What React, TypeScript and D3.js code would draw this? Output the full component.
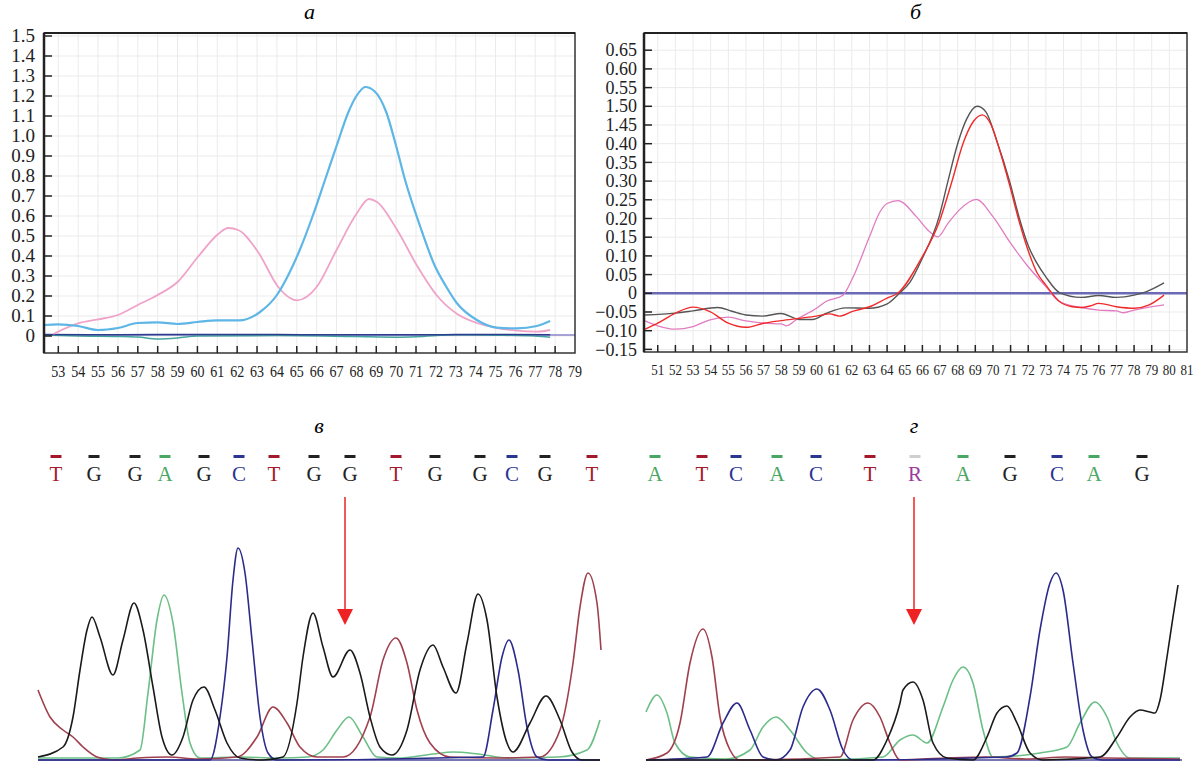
import React from "react";
import * as d3 from "d3";

type Pt = [number, number];

// panel а — melting curves
const A_X_TICKS = [53, 54, 55, 56, 57, 58, 59, 60, 61, 62, 63, 64, 65, 66, 67, 68, 69, 70, 71, 72, 73, 74, 75, 76, 77, 78, 79];
const A_Y_TICKS = [0, 0.1, 0.2, 0.3, 0.4, 0.5, 0.6, 0.7, 0.8, 0.9, 1.0, 1.1, 1.2, 1.3, 1.4, 1.5];
const A_Y_LABELS = ["0", "0.1", "0.2", "0.3", "0.4", "0.5", "0.6", "0.7", "0.8", "0.9", "1.0", "1.1", "1.2", "1.3", "1.4", "1.5"];
const A_BASELINE = 0.005;

const A_BLUE: Pt[] = [
  [52.28, 0.055], [53, 0.058], [54, 0.05], [55, 0.03], [56, 0.04], [57, 0.065], [58, 0.068], [59, 0.06],
  [60, 0.07], [61, 0.078], [62.1, 0.078], [63.15, 0.12], [64, 0.205], [64.6, 0.31], [65.15, 0.43],
  [65.8, 0.6], [66.42, 0.78], [67, 0.95], [67.6, 1.12], [68, 1.2], [68.45, 1.245], [68.9, 1.225],
  [69.5, 1.12], [70, 0.95], [70.45, 0.78], [71.2, 0.55], [71.95, 0.35], [72.5, 0.25], [73.05, 0.165],
  [74.06, 0.08], [75.07, 0.042], [76.07, 0.038], [77.08, 0.05], [77.75, 0.075],
];
const A_PINK: Pt[] = [
  [52.75, 0.01], [54, 0.063], [55, 0.083], [56, 0.105], [57, 0.155], [58, 0.205], [59, 0.27],
  [60.06, 0.4], [61.05, 0.51], [61.55, 0.54], [62.05, 0.53], [63.05, 0.42], [64.07, 0.245],
  [64.66, 0.19], [65, 0.178], [66, 0.245], [67, 0.43], [68, 0.61], [68.63, 0.685], [69.04, 0.67],
  [70.05, 0.53], [71.06, 0.35], [72.07, 0.2], [73.07, 0.11], [74.06, 0.065], [75.07, 0.04],
  [76.07, 0.027], [77.08, 0.022], [77.75, 0.03],
];
const A_TEAL: Pt[] = [
  [52.28, 0.005], [54, 0], [56, -0.002], [57, -0.005], [58, -0.015], [59, -0.01], [60, 0],
  [64, 0.002], [68, -0.003], [70, -0.006], [71, -0.004], [73, 0.006], [75, 0.004], [77, 0], [77.75, -0.006],
];
const A_NAVY: Pt[] = [
  [52.28, 0.008], [56, 0.006], [60, 0.008], [64, 0.007], [68, 0.006], [72, 0.006], [74, 0.008], [77.75, 0.006],
];

// panel б — derivative curves
const B_X_TICKS = [51, 52, 53, 54, 55, 56, 57, 58, 59, 60, 61, 62, 63, 64, 65, 66, 67, 68, 69, 70, 71, 72, 73, 74, 75, 76, 77, 78, 79, 80, 81];
const B_Y_TICKS = [-0.15, -0.1, -0.05, 0, 0.05, 0.1, 0.15, 0.2, 0.25, 0.3, 0.35, 0.4, 0.45, 0.5, 0.55, 0.6, 0.65];
const B_Y_LABELS = ["−0.15", "−0.10", "−0.05", "0", "0.05", "0.10", "0.15", "0.20", "0.25", "0.30", "0.35", "0.40", "1.45", "1.50", "0.55", "0.60", "0.65"];
const B_BASELINE = 0;

const B_BLACK: Pt[] = [
  [50.28, -0.058], [52, -0.053], [53, -0.047], [54.4, -0.038], [55.2, -0.048], [56, -0.058], [56.95, -0.061],
  [57.99, -0.054], [59.02, -0.07], [59.78, -0.07], [60.53, -0.054], [61.66, -0.039], [62.98, -0.04],
  [63.98, -0.029], [64.7, 0], [65.3, 0.03], [65.95, 0.089], [66.95, 0.205], [67.45, 0.3], [68, 0.4],
  [68.5, 0.465], [69.1, 0.5], [69.6, 0.485], [70.2, 0.41], [70.94, 0.3], [71.5, 0.2], [72.02, 0.125],
  [72.5, 0.08], [73, 0.044], [73.77, 0.002], [75, -0.011], [76, -0.006], [77, -0.011], [78, -0.005],
  [78.67, 0.004], [79.7, 0.028],
];
const B_RED: Pt[] = [
  [50.28, -0.096], [51, -0.08], [52, -0.053], [53, -0.037], [53.96, -0.049], [55, -0.08], [56, -0.091],
  [57, -0.08], [58, -0.073], [59, -0.067], [60, -0.061], [60.75, -0.055], [61.3, -0.061], [62, -0.049],
  [63, -0.036], [64, -0.013], [64.6, 0], [65.95, 0.094], [66.95, 0.19], [67.7, 0.303], [68.3, 0.4],
  [68.9, 0.46], [69.4, 0.477], [69.9, 0.45], [70.4, 0.38], [70.94, 0.29], [71.5, 0.19], [72.02, 0.111],
  [72.5, 0.055], [73, 0.022], [73.77, -0.022], [74.5, -0.036], [75, -0.038], [75.5, -0.034], [76, -0.027],
  [77, -0.036], [78, -0.04], [78.86, -0.031], [79.7, -0.005],
];
const B_PINK: Pt[] = [
  [50.28, -0.074], [51, -0.087], [52, -0.096], [53, -0.089], [53.96, -0.071], [55, -0.064], [56, -0.074],
  [57, -0.08], [58, -0.082], [58.3, -0.087], [58.87, -0.07], [60, -0.04], [60.53, -0.022], [61.5, -0.005],
  [62, 0.036], [63, 0.151], [63.6, 0.218], [64, 0.24], [64.62, 0.248], [65.66, 0.205], [66.4, 0.165],
  [66.88, 0.151], [67.45, 0.187], [68.1, 0.223], [69.05, 0.251], [70, 0.205], [71, 0.134], [72, 0.071],
  [73, 0.018], [73.77, -0.022], [75, -0.038], [76, -0.045], [77, -0.047], [77.4, -0.052], [78, -0.045],
  [78.86, -0.037], [79.7, -0.031],
];

// panel в — chromatogram (scan, signal)
const V_BASES = ["T", "G", "G", "A", "G", "C", "T", "G", "G", "T", "G", "G", "C", "G", "T"];
const V_BASE_POS = [18, 56, 97, 127, 166, 201, 236, 276, 312, 358, 397, 442, 474, 507, 554];
const V_ARROW = 307;
const V_BLACK: Pt[] = [
  [0, 3], [25, 13], [35, 43], [42, 90], [49, 130], [54, 143], [62, 123], [75, 85], [85, 120], [96, 157],
  [105, 130], [115, 73], [124, 23], [134, 5], [145, 23], [155, 60], [166, 73], [177, 50], [189, 17],
  [202, 2], [225, 0], [245, 3], [259, 57], [265, 103], [275, 147], [285, 113], [295, 83], [312, 110],
  [322, 87], [332, 43], [342, 13], [354, 5], [369, 30], [382, 90], [395, 115], [405, 93], [418, 67],
  [429, 117], [440, 166], [449, 140], [459, 63], [469, 17], [475, 8], [492, 37], [508, 64], [522, 40],
  [534, 8], [544, 0], [562, 0],
];
const V_GREEN: Pt[] = [
  [0, 2], [80, 2], [102, 10], [110, 67], [119, 140], [126, 165], [135, 137], [144, 67], [152, 17], [162, 2],
  [200, 3], [240, 2], [270, 3], [285, 10], [299, 30], [311, 43], [325, 23], [339, 3], [360, 2], [395, 6],
  [415, 8], [440, 6], [470, 2], [520, 3], [549, 10], [562, 40],
];
const V_BLUE: Pt[] = [
  [0, 0], [172, 0], [182, 43], [189, 103], [195, 180], [200, 212], [207, 187], [214, 120], [222, 43],
  [230, 7], [239, 0], [445, 3], [455, 50], [464, 103], [471, 120], [480, 90], [489, 33], [499, 3], [510, 0], [562, 0],
];
const V_RED: Pt[] = [
  [0, 70], [12, 43], [25, 30], [35, 23], [45, 13], [59, 3], [75, 0], [100, 2], [130, 3], [160, 1], [199, 3],
  [219, 23], [235, 53], [249, 37], [262, 13], [279, 3], [305, 3], [332, 43], [345, 100], [358, 122],
  [369, 97], [379, 50], [392, 17], [412, 3], [460, 2], [502, 3], [522, 30], [535, 97], [542, 153],
  [550, 187], [559, 157], [563, 110],
];

// panel г — chromatogram
const G_BASES = ["A", "T", "C", "A", "C", "T", "R", "A", "G", "C", "A", "G"];
const G_BASE_POS = [9, 56, 90, 131, 170, 224, 269, 317, 364, 411, 448, 496];
const G_ARROW = 268;
const G_GREEN: Pt[] = [
  [0, 48], [11, 65], [21, 47], [29, 17], [44, 3], [80, 1], [104, 10], [117, 33], [130, 43], [144, 30],
  [161, 7], [177, 0], [237, 3], [254, 20], [267, 25], [281, 17], [297, 53], [307, 80], [317, 93], [327, 77],
  [337, 30], [347, 3], [394, 7], [421, 13], [434, 37], [449, 58], [461, 43], [471, 17], [484, 2], [534, 2],
];
const G_RED: Pt[] = [
  [0, 0], [21, 7], [34, 37], [44, 97], [57, 131], [66, 103], [74, 43], [84, 10], [94, 0], [194, 3],
  [207, 40], [222, 57], [234, 43], [244, 17], [254, 0], [300, 2], [340, 3], [380, 1], [420, 3], [460, 2], [534, 1],
];
const G_BLUE: Pt[] = [
  [0, 0], [61, 3], [77, 37], [91, 57], [104, 30], [117, 3], [130, 0], [144, 10], [157, 53], [171, 71],
  [184, 50], [197, 10], [207, 0], [360, 3], [371, 7], [384, 63], [394, 130], [404, 177], [410, 187],
  [417, 170], [427, 97], [437, 30], [446, 3], [456, 0], [534, 0],
];
const G_BLACK: Pt[] = [
  [0, 0], [227, 0], [241, 20], [254, 57], [257, 70], [267, 78], [277, 60], [287, 17], [301, 2], [327, 0],
  [341, 23], [351, 47], [361, 54], [371, 37], [384, 7], [397, 0], [454, 3], [471, 23], [484, 43], [494, 50],
  [504, 48], [509, 47], [514, 60], [521, 103], [527, 143], [532, 175],
];

const BASE_COLORS: Record<string, string> = { T: "#a3192b", G: "#222222", A: "#4aa763", C: "#2d3592", R: "#9c3aa0" };
const DASH_COLORS: Record<string, string> = { T: "#a3192b", G: "#222222", A: "#4aa763", C: "#2d3592", R: "#cfcfcf" };

const SERIF = "'Liberation Serif', 'DejaVu Serif', serif";

function MeltPanel(props: any) {
  const { box, xDomain, yDomain, xTicks, yTicks, yLabels, series, baseline, baseColor, baseWidth, xFont, xLen, xLabelY, yFont, yLabelRight, title } = props;
  const x = d3.scaleLinear().domain(xDomain).range([box.left, box.right]);
  const y = d3.scaleLinear().domain(yDomain).range([box.bottom, box.top]);
  const line = d3.line<Pt>().x(d => x(d[0])).y(d => y(d[1])).curve(d3.curveMonotoneX);
  const inner = xTicks.filter((t: number) => x(t) < box.right - 1);
  return (
    <g>
      <text x={(box.left + box.right) / 2} y={19} textAnchor="middle" fontFamily={SERIF} fontStyle="italic" fontSize={22}>{title}</text>
      {inner.map((t: number) => (
        <line key={"gx" + t} x1={x(t)} x2={x(t)} y1={box.top} y2={box.bottom} stroke="#ebebeb" />
      ))}
      {yTicks.map((t: number) => (
        <line key={"gy" + t} x1={box.left} x2={box.right} y1={y(t)} y2={y(t)} stroke="#ebebeb" />
      ))}
      <line x1={box.left} x2={box.right} y1={y(baseline)} y2={y(baseline)} stroke={baseColor} strokeWidth={baseWidth} />
      {series.map((s: any, i: number) => (
        <path key={i} d={line(s.data) || ""} fill="none" stroke={s.color} strokeWidth={s.width} />
      ))}
      <rect x={box.left} y={box.top} width={box.right - box.left} height={box.bottom - box.top} fill="none" stroke="#333" strokeWidth={1.5} />
      <line x1={box.left} x2={box.left} y1={box.top} y2={box.bottom} stroke="#222" strokeWidth={2.5} />
      <line x1={box.left} x2={box.right} y1={box.top} y2={box.top} stroke="#222" strokeWidth={2} />
      {inner.map((t: number) => (
        <line key={"tx" + t} x1={x(t)} x2={x(t)} y1={box.bottom} y2={box.bottom - 7} stroke="#222" strokeWidth={1.5} />
      ))}
      {yTicks.map((t: number) => (
        <line key={"ty" + t} x1={box.left} x2={box.left + 8} y1={y(t)} y2={y(t)} stroke="#222" strokeWidth={1.5} />
      ))}
      {xTicks.map((t: number) => (
        <text key={"lx" + t} x={x(t)} y={xLabelY} textAnchor="middle" fontFamily={SERIF} fontSize={xFont}
          textLength={xLen} lengthAdjust="spacingAndGlyphs" fill="#222">{t}</text>
      ))}
      {yTicks.map((t: number, i: number) => (
        <text key={"ly" + t} x={yLabelRight} y={y(t) + yFont * 0.34} textAnchor="end" fontFamily={SERIF} fontSize={yFont} fill="#222">{yLabels[i]}</text>
      ))}
    </g>
  );
}

function ChromPanel(props: any) {
  const { range, domain, bases, basePos, arrow, traces, title } = props;
  const x = d3.scaleLinear().domain(domain).range(range);
  const y = d3.scaleLinear().domain([0, 220]).range([760, 540]);
  const line = d3.line<Pt>().x(d => x(d[0])).y(d => y(d[1])).curve(d3.curveMonotoneX);
  const cx = (range[0] + range[1]) / 2;
  return (
    <g>
      <text x={cx} y={433} textAnchor="middle" fontFamily={SERIF} fontStyle="italic" fontSize={22}>{title}</text>
      {bases.map((b: string, i: number) => (
        <g key={i}>
          <rect x={x(basePos[i]) - 5.5} y={455} width={11} height={3} fill={DASH_COLORS[b]} />
          <text x={x(basePos[i])} y={481} textAnchor="middle" fontFamily={SERIF} fontSize={21} fill={BASE_COLORS[b]}>{b}</text>
        </g>
      ))}
      <line x1={range[0]} x2={range[1]} y1={y(0)} y2={y(0)} stroke="#4a4a9a" strokeWidth={1.5} />
      {traces.map((t: any, i: number) => (
        <path key={i} d={line(t.data) || ""} fill="none" stroke={t.color} strokeWidth={1.6} />
      ))}
      <line x1={x(arrow)} x2={x(arrow)} y1={497} y2={610} stroke="#ee2222" strokeWidth={1.5} />
      <path d={`M${x(arrow) - 8},609 L${x(arrow) + 8},609 L${x(arrow)},625 Z`} fill="#ee2222" />
    </g>
  );
}

export default function App() {
  return (
    <div>
      <style>{"body{margin:0;background:#fff}"}</style>
      <svg width={1200} height={762} style={{ display: "block" }}>
        <rect width={1200} height={762} fill="#fff" />
        <MeltPanel
          title="а"
          box={{ left: 44, right: 575, top: 33, bottom: 353 }}
          xDomain={[52.28, 79]}
          yDomain={[-0.085, 1.515]}
          xTicks={A_X_TICKS}
          yTicks={A_Y_TICKS}
          yLabels={A_Y_LABELS}
          baseline={A_BASELINE}
          baseColor="#8a84c8"
          baseWidth={1.5}
          series={[
            { data: A_TEAL, color: "#45a3a0", width: 1.5 },
            { data: A_NAVY, color: "#2c3d8f", width: 1.5 },
            { data: A_PINK, color: "#f0a3c8", width: 1.8 },
            { data: A_BLUE, color: "#5db6e6", width: 2.2 },
          ]}
          xFont={16}
          xLen={14}
          xLabelY={377}
          yFont={19}
          yLabelRight={35}
        />
        <MeltPanel
          title="б"
          box={{ left: 644, right: 1187, top: 33, bottom: 352 }}
          xDomain={[50.22, 81]}
          yDomain={[-0.157, 0.696]}
          xTicks={B_X_TICKS}
          yTicks={B_Y_TICKS}
          yLabels={B_Y_LABELS}
          baseline={B_BASELINE}
          baseColor="#6b6bb5"
          baseWidth={2.5}
          series={[
            { data: B_PINK, color: "#e27cc0", width: 1.3 },
            { data: B_BLACK, color: "#555555", width: 1.4 },
            { data: B_RED, color: "#f02a2a", width: 1.4 },
          ]}
          xFont={15}
          xLen={13}
          xLabelY={375}
          yFont={18}
          yLabelRight={637}
        />
        <ChromPanel
          title="в"
          range={[38, 600]}
          domain={[0, 562]}
          bases={V_BASES}
          basePos={V_BASE_POS}
          arrow={V_ARROW}
          traces={[
            { data: V_GREEN, color: "#6cbf86" },
            { data: V_RED, color: "#a0404e" },
            { data: V_BLUE, color: "#2b2b8c" },
            { data: V_BLACK, color: "#1a1a1a" },
          ]}
        />
        <ChromPanel
          title="г"
          range={[646, 1182]}
          domain={[0, 536]}
          bases={G_BASES}
          basePos={G_BASE_POS}
          arrow={G_ARROW}
          traces={[
            { data: G_GREEN, color: "#6cbf86" },
            { data: G_RED, color: "#a0404e" },
            { data: G_BLUE, color: "#2b2b8c" },
            { data: G_BLACK, color: "#1a1a1a" },
          ]}
        />
      </svg>
    </div>
  );
}
